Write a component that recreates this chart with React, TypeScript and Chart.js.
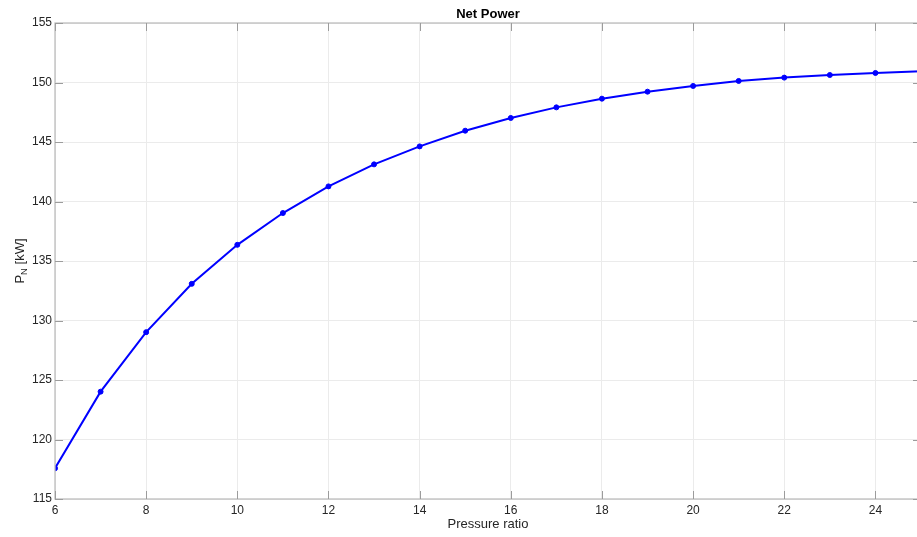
import React, { useEffect, useRef } from "react";
import { Chart, registerables } from "chart.js";

Chart.register(...registerables);

const pressureRatio = [6, 7, 8, 9, 10, 11, 12, 13, 14, 15, 16, 17, 18, 19, 20, 21, 22, 23, 24, 25];
const netPower = [
  117.58, 124.02, 129.02, 133.08, 136.36, 139.03, 141.27, 143.12, 144.63, 145.95,
  147.02, 147.91, 148.64, 149.23, 149.71, 150.13, 150.41, 150.63, 150.8, 150.95,
];
const xTicks = [6, 8, 10, 12, 14, 16, 18, 20, 22, 24];
const yTicks = [115, 120, 125, 130, 135, 140, 145, 150, 155];

const titleText = "Net Power";
const xLabel = "Pressure ratio";
const yLabelMain = "P";
const yLabelSub = "N";
const yLabelRest = " [kW]";

const FONT = "'Liberation Sans', Arial, Helvetica, sans-serif";

const framePlugin = {
  id: "matlabFrame",
  afterDraw(chart: any) {
    const { ctx, chartArea, scales } = chart;
    const { left, right, top, bottom } = chartArea;
    ctx.save();
    ctx.strokeStyle = "#bdbdbd";
    ctx.lineWidth = 1.3;
    ctx.strokeRect(left, top, right - left, bottom - top);
    ctx.strokeStyle = "#9c9c9c";
    ctx.lineWidth = 1;
    const tl = 8;
    ctx.beginPath();
    for (const v of xTicks) {
      const px = Math.round(scales.x.getPixelForValue(v)) + 0.5;
      ctx.moveTo(px, bottom);
      ctx.lineTo(px, bottom - tl);
      ctx.moveTo(px, top);
      ctx.lineTo(px, top + tl);
    }
    for (const v of yTicks) {
      const py = Math.round(scales.y.getPixelForValue(v)) + 0.5;
      ctx.moveTo(left, py);
      ctx.lineTo(left + tl, py);
      ctx.moveTo(right, py);
      ctx.lineTo(right - tl, py);
    }
    ctx.stroke();

    const cx = (left + right) / 2;
    const cy = (top + bottom) / 2;
    ctx.fillStyle = "#000000";
    ctx.font = `bold 13px ${FONT}`;
    ctx.textAlign = "center";
    ctx.textBaseline = "middle";
    ctx.fillText(titleText, cx, 14);
    ctx.fillStyle = "#262626";
    ctx.font = `13px ${FONT}`;
    ctx.textBaseline = "alphabetic";
    ctx.fillText(xLabel, cx, 528);
    ctx.translate(23.5, cy);
    ctx.rotate(-Math.PI / 2);
    ctx.textAlign = "left";
    const mainFont = `13px ${FONT}`;
    const subFont = `9.5px ${FONT}`;
    ctx.font = mainFont;
    const w1 = ctx.measureText(yLabelMain).width;
    const w3 = ctx.measureText(yLabelRest).width;
    ctx.font = subFont;
    const w2 = ctx.measureText(yLabelSub).width;
    let x0 = -(w1 + w2 + w3) / 2;
    ctx.font = mainFont;
    ctx.fillText(yLabelMain, x0, 0);
    x0 += w1;
    ctx.font = subFont;
    ctx.fillText(yLabelSub, x0, 3.5);
    x0 += w2;
    ctx.font = mainFont;
    ctx.fillText(yLabelRest, x0, 0);
    ctx.restore();
  },
};

export default function App() {
  const canvasRef = useRef<HTMLCanvasElement | null>(null);

  useEffect(() => {
    if (!canvasRef.current) return;
    const chart = new Chart(canvasRef.current, {
      type: "line",
      data: {
        datasets: [
          {
            label: "Net Power",
            data: pressureRatio.map((x, i) => ({ x, y: netPower[i] })),
            borderColor: "#0000ff",
            backgroundColor: "#0000ff",
            borderWidth: 2,
            pointRadius: 2.5,
            pointBackgroundColor: "#0000ff",
            pointBorderColor: "#0000ff",
            pointBorderWidth: 1,
            tension: 0,
            fill: false,
          },
        ],
      },
      options: {
        animation: false,
        responsive: false,
        maintainAspectRatio: false,
        devicePixelRatio: 1,
        layout: { autoPadding: false, padding: { top: 23, right: 1, left: 0, bottom: 0 } },
        plugins: {
          legend: { display: false },
          title: { display: false },
          tooltip: { enabled: false },
        },
        scales: {
          x: {
            type: "linear",
            min: 6,
            max: 25,
            afterBuildTicks: (scale: any) => {
              scale.ticks = xTicks.map((v) => ({ value: v }));
            },
            afterFit: (scale: any) => {
              scale.height = 38;
              scale.paddingLeft = 0;
              scale.paddingRight = 0;
            },
            grid: { color: "#ebebeb", drawTicks: false, lineWidth: 1 },
            border: { display: false },
            ticks: {
              padding: 4,
              color: "#262626",
              font: { family: FONT, size: 12 },
              maxRotation: 0,
              autoSkip: false,
            },
          },
          y: {
            type: "linear",
            min: 115,
            max: 155,
            afterBuildTicks: (scale: any) => {
              scale.ticks = yTicks.map((v) => ({ value: v }));
            },
            afterFit: (scale: any) => {
              scale.width = 55;
              scale.paddingTop = 0;
              scale.paddingBottom = 0;
            },
            grid: { color: "#ebebeb", drawTicks: false, lineWidth: 1 },
            border: { display: false },
            ticks: {
              padding: 3,
              color: "#262626",
              font: { family: FONT, size: 12 },
              autoSkip: false,
            },
          },
        },
      },
      plugins: [framePlugin],
    } as any);
    return () => chart.destroy();
  }, []);

  return (
    <div
      style={{
        position: "fixed",
        left: 0,
        top: 0,
        width: 917,
        height: 537,
        overflow: "hidden",
        background: "#ffffff",
      }}
    >
      <canvas ref={canvasRef} width={922} height={537} style={{ display: "block" }} />
    </div>
  );
}
